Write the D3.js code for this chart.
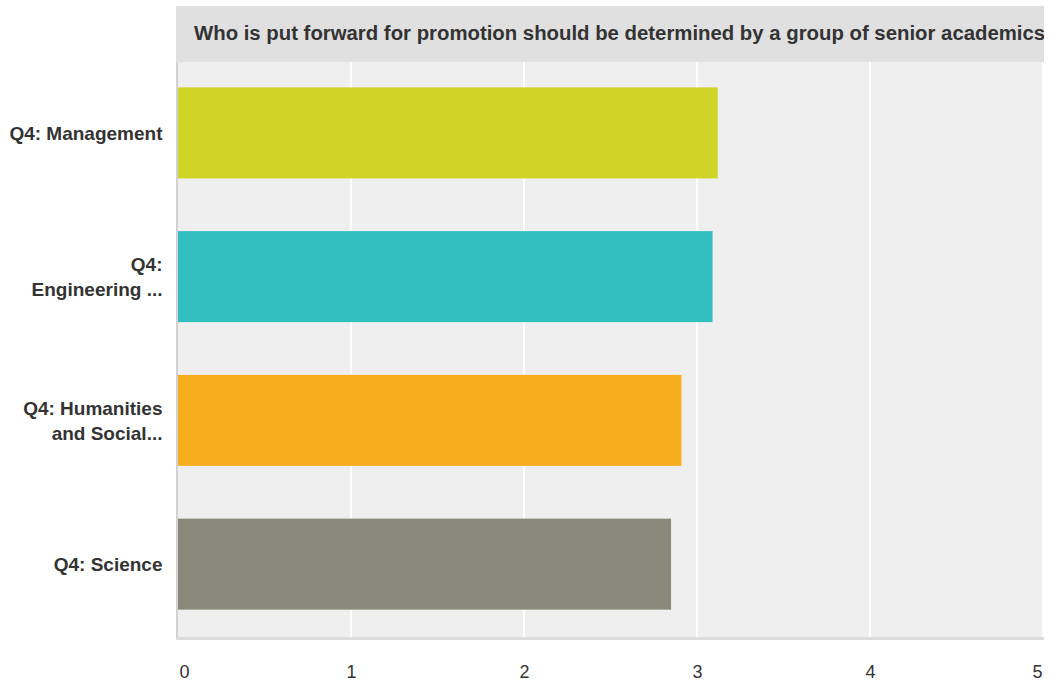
<!DOCTYPE html>
<html>
<head>
<meta charset="utf-8">
<script src="https://cdn.jsdelivr.net/npm/d3@7"></script>
<style>
  html, body { margin: 0; padding: 0; background: #fff; }
  svg { display: block; }
  text { font-family: "Liberation Sans", Arial, Helvetica, sans-serif; }
</style>
</head>
<body>
<svg id="chart" width="1051" height="686"></svg>
<script>
const title = "Who is put forward for promotion should be determined by a group of senior academics";
const categories = ["Q4: Management", "Q4: Engineering ...", "Q4: Humanities and Social...", "Q4: Science"];
const categoryLines = [["Q4: Management"], ["Q4:", "Engineering ..."], ["Q4: Humanities", "and Social..."], ["Q4: Science"]];
const values = [3.12, 3.09, 2.91, 2.85];
const colors = ["#cfd427", "#33bec0", "#f6ae1f", "#898a79"];
const tickValues = [0, 1, 2, 3, 4, 5];

const svg = d3.select("#chart");
const plot = { left: 178, right: 1044, top: 62, bottom: 637 };

const x = d3.scaleLinear().domain([0, 5]).range([plot.left, plot.right - 1]);
const y = d3.scaleBand().domain(categories).range([plot.top - 1, plot.bottom - 1])
  .paddingInner(0.367).paddingOuter(0.1835);

// title band
svg.append("rect").attr("x", 176).attr("y", 6).attr("width", plot.right - 176).attr("height", plot.top - 6)
  .attr("fill", "#e0e0e0");
svg.append("clipPath").attr("id", "tclip").append("rect")
  .attr("x", 176).attr("y", 6).attr("width", plot.right - 176).attr("height", plot.top - 6);
svg.append("text").attr("clip-path", "url(#tclip)")
  .attr("x", 194).attr("y", 40)
  .attr("font-size", 20.35).attr("font-weight", "bold").attr("fill", "#333")
  .text(title);

// plot background
svg.append("rect").attr("x", plot.left).attr("y", plot.top)
  .attr("width", plot.right - plot.left).attr("height", plot.bottom - plot.top)
  .attr("fill", "#efefef");

// gridlines
svg.append("g").selectAll("line").data(tickValues.slice(1))
  .join("line")
  .attr("x1", d => x(d)).attr("x2", d => x(d))
  .attr("y1", plot.top).attr("y2", plot.bottom)
  .attr("stroke", "#fff").attr("stroke-width", 2);

// bars
svg.append("g").selectAll("rect").data(categories)
  .join("rect")
  .attr("x", x(0))
  .attr("y", d => y(d))
  .attr("width", (d, i) => x(values[i]) - x(0))
  .attr("height", y.bandwidth())
  .attr("fill", (d, i) => colors[i]);

// axis lines
svg.append("rect").attr("x", 176).attr("y", plot.top).attr("width", 2).attr("height", plot.bottom + 3 - plot.top)
  .attr("fill", "#d2d2d2");
svg.append("rect").attr("x", 176).attr("y", plot.bottom).attr("width", plot.right - 176).attr("height", 3)
  .attr("fill", "#dcdcdc");

// x tick labels
const xAxis = d3.axisBottom(x).tickValues(tickValues).tickSize(0).tickFormat(d3.format("d"));
const gx = svg.append("g").attr("transform", `translate(0,${plot.bottom})`).call(xAxis);
gx.select(".domain").remove();
gx.selectAll("text")
  .attr("font-size", 18).attr("fill", "#333").attr("font-family", "Liberation Sans, Arial, sans-serif")
  .attr("y", 0).attr("dy", null)
  .attr("transform", "translate(0,41)")
  .attr("text-anchor", d => d === 0 ? "start" : (d === 5 ? "end" : "middle"))
  .attr("x", d => d === 0 ? 1 : (d === 5 ? -1 : 0));

// y labels
const gy = svg.append("g");
categories.forEach((c, i) => {
  const lines = categoryLines[i];
  const cy = y(c) + y.bandwidth() / 2;
  const lh = 24.5;
  const t = gy.append("text")
    .attr("text-anchor", "end")
    .attr("font-size", 19).attr("font-weight", "bold").attr("fill", "#333");
  lines.forEach((ln, j) => {
    t.append("tspan").attr("x", 162.5)
      .attr("y", cy - (lines.length - 1) * lh / 2 + j * lh + 7)
      .text(ln);
  });
});
</script>
</body>
</html>
